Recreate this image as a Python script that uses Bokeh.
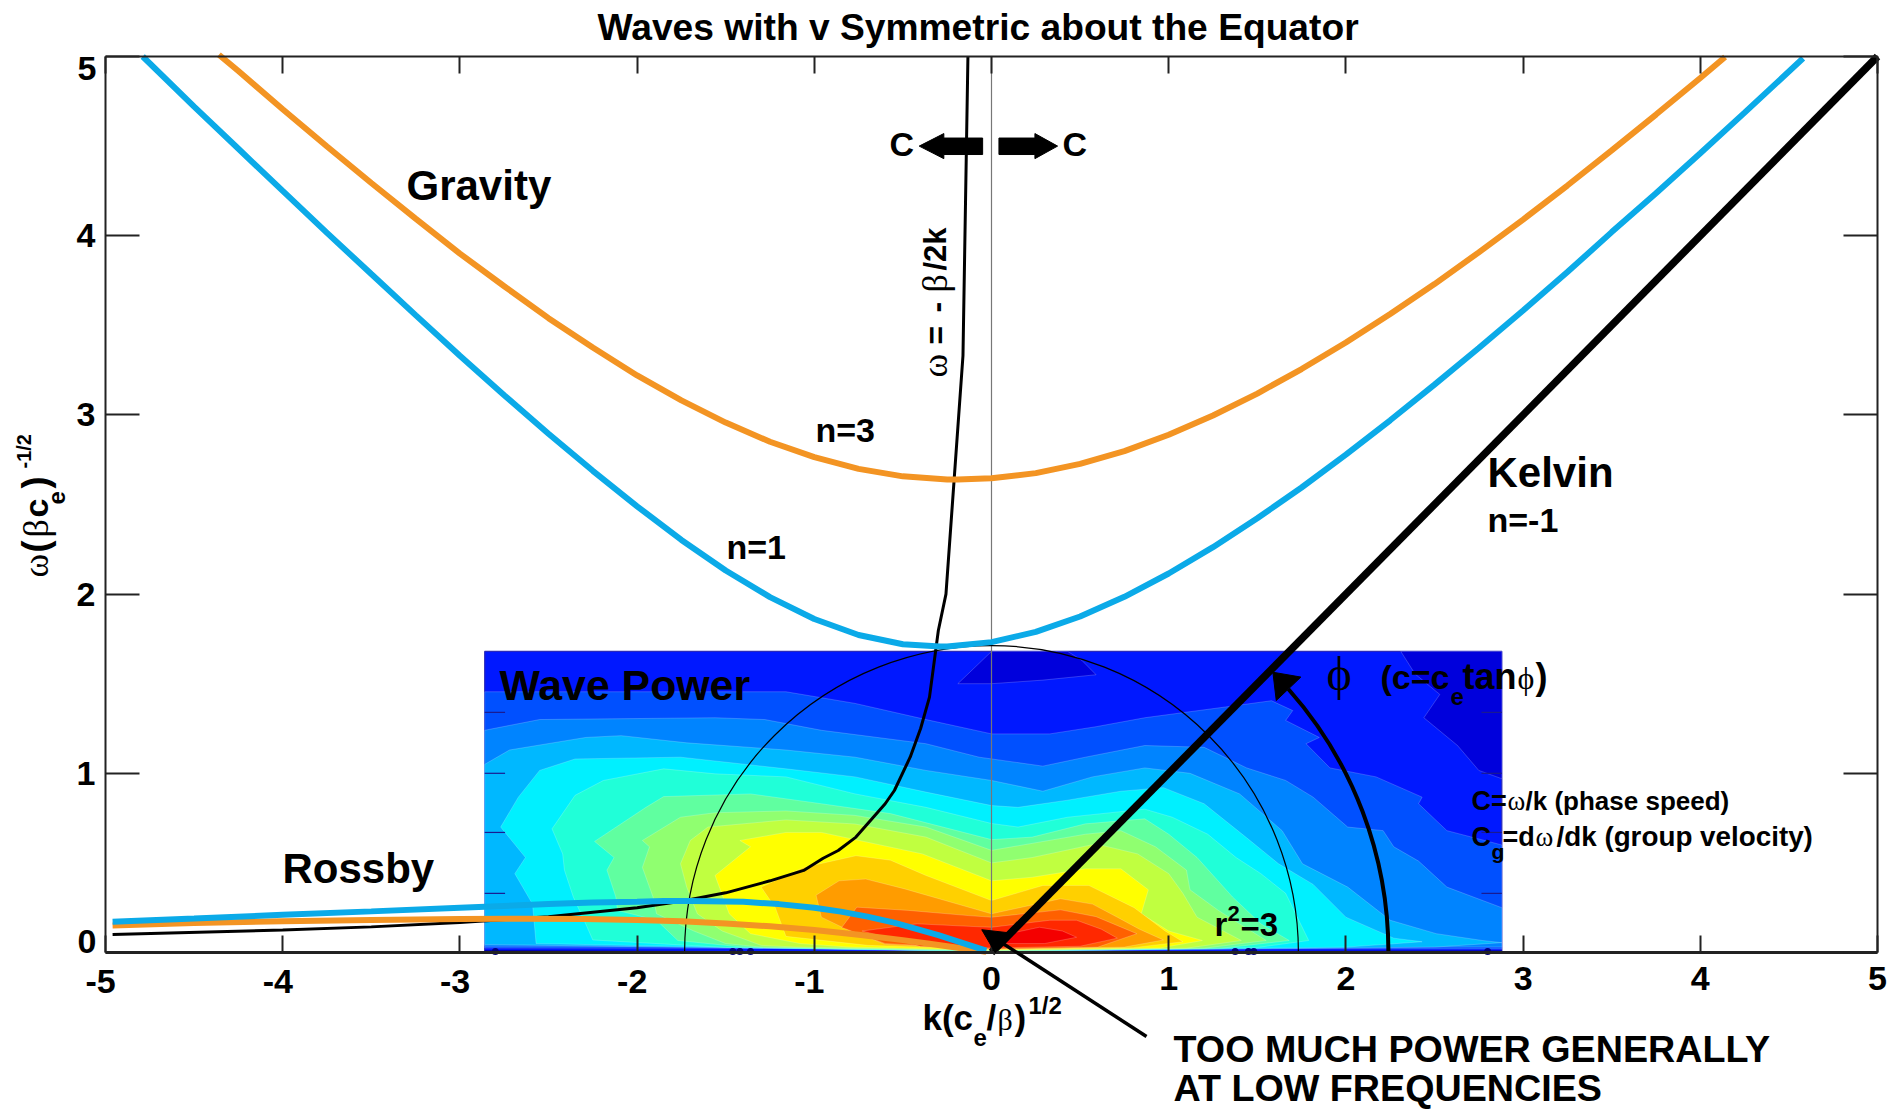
from math import pi
from bokeh.embed import file_html
from bokeh.resources import INLINE
from bokeh.plotting import figure
from bokeh.models import Label, LinearAxis, FixedTicker, Arrow, NormalHead, Range1d

# ---- dispersion curves
gravity1_k = [-4.79,-4.5,-4.25,-4,-3.75,-3.5,-3.25,-3,-2.75,-2.5,-2.25,-2,-1.75,-1.5,-1.25,-1,-0.75,-0.5,-0.29,-0.25,0,0.25,0.5,0.75,1,1.25,1.5,1.75,2,2.25,2.5,2.75,3,3.25,3.5,3.75,4,4.25,4.58]
gravity1_w = [5.0,4.72,4.485,4.25,4.016,3.786,3.557,3.33,3.11,2.895,2.688,2.49,2.302,2.132,1.983,1.861,1.772,1.72,1.707,1.708,1.732,1.789,1.875,1.985,2.115,2.262,2.423,2.595,2.778,2.97,3.169,3.373,3.583,3.797,4.02,4.237,4.46,4.687,4.99]
gravity3_k = [-4.36,-4.25,-4,-3.75,-3.5,-3.25,-3,-2.75,-2.5,-2.25,-2,-1.75,-1.5,-1.25,-1,-0.75,-0.5,-0.25,-0.19,0,0.25,0.5,0.75,1,1.25,1.5,1.75,2,2.25,2.5,2.75,3,3.25,3.5,3.75,4,4.14]
gravity3_w = [5.01,4.919,4.706,4.498,4.294,4.095,3.90,3.718,3.54,3.376,3.22,3.081,2.957,2.85,2.764,2.699,2.657,2.64,2.639,2.646,2.675,2.727,2.798,2.889,2.997,3.119,3.256,3.404,3.563,3.73,3.907,4.09,4.28,4.476,4.676,4.88,4.997]
rossby1_k = [-4.96,-4.5,-4,-3.5,-3,-2.5,-2.25,-2,-1.85,-1.7,-1.4,-1.2,-1,-0.85,-0.7,-0.55,-0.4,-0.3,-0.2,-0.1,-0.03]
rossby1_w = [0.172,0.19,0.21,0.2295,0.25,0.27,0.279,0.283,0.287,0.287,0.283,0.27,0.25,0.228,0.20,0.167,0.125,0.097,0.065,0.033,0.01]
rossby3_k = [-4.96,-4.5,-4,-3.5,-3,-2.65,-2.3,-2,-1.75,-1.5,-1.25,-1,-0.75,-0.5,-0.35,-0.2,-0.03]
rossby3_w = [0.15,0.165,0.174,0.182,0.1875,0.189,0.187,0.182,0.174,0.162,0.146,0.125,0.099,0.069,0.049,0.028,0.004]
inertial_k = [-4.96,-4,-3.5,-3,-2.5,-2,-1.75,-1.5,-1.25,-1.06,-0.95,-0.865,-0.765,-0.667,-0.6,-0.548,-0.459,-0.4,-0.35,-0.30,-0.257,-0.161,-0.133]
inertial_w = [0.10,0.125,0.143,0.167,0.2,0.25,0.286,0.333,0.4,0.458,0.526,0.569,0.644,0.755,0.83,0.904,1.09,1.25,1.425,1.797,2.0,3.33,5.0]
kelvin_k = [0, 5]
kelvin_w = [0, 5]

# ---- wave power: nested filled contour bands, outermost first
map_k = [-2.86, 2.88]
map_w = [0.0, 1.68]
band_colors = ["#0018FF","#0050FF","#0084FF","#00B8FF","#00F0FF","#20FFD8","#60FFA0","#90FF70",
               "#C0FF40","#FFFF00","#FFD000","#FF9C00","#FF6000","#FF2800","#F40000"]
dark_color = "#0000DC"
floor_color = "#0000B4"
floor_k = [-2.86,2.88,2.88,1.3,0,-1.5,-2.86]
floor_w = [0,0,0.012,0.008,0,0.008,0.014]
map_spot_k = [-2.80,-1.46,-1.42,-1.36,1.375,1.45,1.48,2.80]
map_spot_w = [0.006,0.006,0.006,0.006,0.006,0.006,0.006,0.006]
dark_center_k = [-0.19,0,0.29,0.59,0.51,0.43,0]
dark_center_w = [1.50,1.50,1.52,1.55,1.63,1.68,1.68]
dark_right_k = [2.31,2.39,2.53,2.44,2.63,2.75,2.88,2.88]
dark_right_w = [1.68,1.555,1.44,1.31,1.155,1.016,0.97,1.68]
band2_k = [-2.86,-1.16,-0.77,-0.37,0,0.33,0.59,0.865,1.32,1.58,1.7,1.66,1.85,1.775,1.91,2.17,2.43,2.41,2.57,2.88,2.88,-2.86]
band2_w = [1.455,1.455,1.39,1.30,1.22,1.22,1.26,1.31,1.37,1.405,1.35,1.295,1.20,1.165,1.03,0.98,0.867,0.83,0.68,0.60,0.02,0.025]
band3_k = [-2.86,-2.55,-1.56,-1.28,-0.96,-0.37,-0.07,0.29,0.53,0.865,1.2,1.44,1.66,1.815,2.01,2.21,2.27,2.41,2.57,2.88,2.88,-2.86]
band3_w = [1.24,1.30,1.31,1.30,1.24,1.165,1.09,1.04,1.09,1.155,1.145,1.03,0.96,0.867,0.70,0.68,0.59,0.51,0.365,0.25,0.03,0.035]
band4_k = [-2.86,-2.72,-2.29,-2.09,-1.72,-1.16,-0.77,-0.37,0,0.29,0.57,0.865,1.12,1.4,1.64,1.755,2.01,2.25,2.51,2.77,2.88,2.5,0,-2.86]
band4_w = [1.05,1.13,1.20,1.21,1.17,1.13,1.09,1.016,0.96,0.90,0.98,1.03,1.0,0.885,0.68,0.495,0.365,0.18,0.105,0.067,0.055,0.03,0.005,0.045]
band5_k = [-2.57,-2.59,-2.69,-2.63,-2.77,-2.67,-2.55,-2.35,-1.755,-1.16,-0.77,-0.37,0,0.15,0.43,0.73,0.97,1.2,1.44,1.62,1.815,2.0,2.27,2.43,2.0,0,-1.8]
band5_w = [0.05,0.27,0.44,0.53,0.70,0.867,1.016,1.08,1.09,1.025,0.98,0.895,0.82,0.81,0.85,0.90,0.92,0.83,0.64,0.495,0.38,0.197,0.08,0.06,0.03,0.006,0.035]
band6_k = [-2.25,-2.29,-2.36,-2.41,-2.42,-2.48,-2.35,-2.19,-1.85,-1.56,-1.16,-0.77,-0.37,0,0.15,0.43,0.865,1.02,1.22,1.38,1.52,1.66,1.79,1.5,0,-1.5]
band6_w = [0.07,0.16,0.31,0.46,0.55,0.69,0.877,0.96,1.025,0.997,0.98,0.885,0.81,0.72,0.70,0.755,0.80,0.755,0.66,0.53,0.44,0.33,0.067,0.028,0.006,0.028]
band7_k = [-1.77,-1.89,-2.11,-2.12,-2.17,-2.13,-2.24,-1.95,-1.85,-1.36,-0.96,-0.57,0,0.23,0.53,0.865,1.0,1.16,1.26,1.36,1.52,1.68,1.3,0,-1.4]
band7_w = [0.067,0.18,0.235,0.31,0.46,0.53,0.62,0.81,0.87,0.885,0.83,0.775,0.63,0.644,0.718,0.746,0.66,0.53,0.42,0.31,0.16,0.067,0.024,0.008,0.03]
band8_k = [-1.5,-1.68,-1.89,-1.91,-1.97,-1.93,-1.97,-1.755,-1.56,-1.16,-0.77,-0.37,0,0.53,0.73,0.925,1.1,1.12,1.28,1.55,1.2,0,-1.3]
band8_w = [0.05,0.12,0.216,0.31,0.475,0.59,0.625,0.755,0.78,0.79,0.765,0.70,0.57,0.66,0.68,0.59,0.46,0.35,0.235,0.067,0.024,0.01,0.03]
band9_k = [-1.3,-1.52,-1.66,-1.72,-1.755,-1.70,-1.60,-1.16,-0.77,-0.37,0,0.23,0.59,0.825,1.0,1.08,1.16,1.41,1.1,0,-1.1]
band9_w = [0.04,0.12,0.216,0.365,0.495,0.625,0.70,0.74,0.717,0.644,0.50,0.53,0.606,0.55,0.44,0.33,0.197,0.067,0.024,0.012,0.03]
band10_k = [-1.08,-1.36,-1.48,-1.56,-1.36,-1.42,-1.16,-0.96,-0.39,0,0.23,0.53,0.73,0.885,0.845,1.0,1.19,0.95,0,-0.8]
band10_w = [0.05,0.105,0.216,0.43,0.59,0.625,0.67,0.67,0.55,0.40,0.42,0.467,0.467,0.35,0.216,0.12,0.067,0.025,0.014,0.03]
band11_k = [-0.7,-1.16,-1.22,-1.30,-1.06,-0.765,-0.57,-0.37,0,0.29,0.55,0.805,0.98,1.08,0.8,0]
band11_w = [0.04,0.09,0.25,0.365,0.475,0.54,0.515,0.43,0.29,0.374,0.374,0.25,0.12,0.06,0.027,0.016]
band12_k = [-0.6,-0.84,-0.96,-0.99,-0.86,-0.71,-0.49,0,0.39,0.57,0.71,0.835,0.97,0.75,0]
band12_w = [0.045,0.14,0.197,0.32,0.40,0.41,0.355,0.216,0.30,0.27,0.197,0.13,0.07,0.03,0.018]
band13_k = [-0.6,-0.845,-0.76,-0.47,-0.13,0,0.39,0.59,0.82,0.6,0]
band13_w = [0.05,0.14,0.253,0.235,0.206,0.197,0.238,0.2,0.105,0.03,0.02]
band14_k = [-0.73,-0.42,-0.1,0,0.33,0.48,0.62,0.71,0.5,0,-0.4]
band14_w = [0.12,0.16,0.145,0.141,0.18,0.18,0.13,0.08,0.035,0.025,0.035]
band15_k = [0.03,0.27,0.4,0.48,0.3,0.05]
band15_w = [0.09,0.141,0.12,0.085,0.05,0.05]
bands = [(band2_k,band2_w),(band3_k,band3_w),(band4_k,band4_w),(band5_k,band5_w),(band6_k,band6_w),
         (band7_k,band7_w),(band8_k,band8_w),(band9_k,band9_w),(band10_k,band10_w),(band11_k,band11_w),
         (band12_k,band12_w),(band13_k,band13_w),(band14_k,band14_w),(band15_k,band15_w)]
map_tick_w = [0.33, 0.67, 1.0, 1.34]

# ---- tick labels
x_ticks = [-5,-4,-3,-2,-1,0,1,2,3,4,5]
x_labels = ["-5","-4","-3","-2","-1","0","1","2","3","4","5"]
y_ticks = [0,1,2,3,4,5]
y_labels = ["0","1","2","3","4","5"]

# ---- annotation shapes
phase_left_k = [-0.408,-0.269,-0.269,-0.05,-0.05,-0.269,-0.269]
phase_right_k = [0.373,0.245,0.245,0.042,0.042,0.245,0.245]
phase_w = [4.50,4.57,4.545,4.545,4.453,4.453,4.43]
phi_head_k = [1.588,1.746,1.607]
phi_head_w = [1.564,1.537,1.406]

SANS = "Liberation Sans"
SERIF = "Liberation Serif"
WIDTH, HEIGHT = 1890, 1109
X0, X1, Y0, Y1 = 105, 1877, 952, 56

def px_k(px): return -5 + (px-X0)/(X1-X0)*10
def py_w(py): return (Y0-py)/(Y0-Y1)*5
def k_px(k): return X0 + (k+5)/10*(X1-X0)

# the plot frame fills the canvas, so the texts around the axes are not clipped
p = figure(width=WIDTH, height=HEIGHT, output_backend="svg", toolbar_location=None,
           x_range=Range1d(px_k(0), px_k(WIDTH)), y_range=Range1d(py_w(HEIGHT), py_w(0)),
           min_border=0, x_axis_type=None, y_axis_type=None)
p.grid.visible = False
p.outline_line_color = None
p.background_fill_color = "white"

# axes
def style(ax, ticks, labels, tick_in, show, loc, bounds):
    ax.fixed_location = loc
    ax.bounds = bounds
    ax.ticker = FixedTicker(ticks=ticks)
    ax.major_label_overrides = {t: l for t, l in zip(ticks, labels)}
    ax.minor_tick_line_color = None
    ax.major_tick_in = tick_in
    ax.major_tick_out = 0
    ax.axis_line_color = "#222222"
    ax.major_tick_line_color = "#222222"
    ax.axis_line_width = 2
    ax.major_tick_line_width = 2
    ax.major_label_text_font = SANS
    ax.major_label_text_font_style = "bold"
    ax.major_label_text_font_size = "34px"
    ax.major_label_text_color = "black" if show else None
    ax.major_label_standoff = 14 if show else 0

# negative x labels and the two end y labels sit off their ticks: they are placed as texts below
bottom = LinearAxis(); style(bottom, x_ticks, [l if t >= 0 else "" for t, l in zip(x_ticks, x_labels)], 17, True, 0, (-5,5)); bottom.axis_line_width = 3
top = LinearAxis(); style(top, x_ticks, [""]*11, 17, False, 5, (-5,5))
left = LinearAxis(); style(left, y_ticks, [l if 0 < t < 5 else "" for t, l in zip(y_ticks, y_labels)], 34, True, -5, (0,5)); left.major_label_standoff = 10
right = LinearAxis(); style(right, y_ticks, [""]*6, 34, False, 5, (0,5))
p.add_layout(bottom, "below"); p.add_layout(left, "left")
p.add_layout(top, "above"); p.add_layout(right, "right")

# wave-power map
edge = dict(line_color="#FFFFFF", line_alpha=0.28, line_width=0.7)
p.patch([map_k[0],map_k[1],map_k[1],map_k[0]], [map_w[0],map_w[0],map_w[1],map_w[1]],
        fill_color=band_colors[0], line_color="#2A2AB8", line_width=1.2)
p.patch(dark_center_k, dark_center_w, fill_color=dark_color, **edge)
p.patch(dark_right_k, dark_right_w, fill_color=dark_color, **edge)
p.patch(floor_k, floor_w, fill_color=floor_color, line_color=None)
for (bk, bw), c in zip(bands, band_colors[1:]):
    p.patch(bk, bw, fill_color=c, **edge)
p.scatter(map_spot_k, map_spot_w, size=7, fill_color="#000080", line_color=None)
for w in map_tick_w:
    p.segment([map_k[0], map_k[1]-0.115], [w, w], [map_k[0]+0.115, map_k[1]], [w, w],
              line_color="#1A1A90", line_width=1.2)

# reference lines
p.segment([0],[0],[0],[5], line_color="#777777", line_width=1.2)
p.arc(x=[0],y=[0],radius=1.732,start_angle=0,end_angle=pi,line_color="black",line_width=1.2)
p.arc(x=[0],y=[0],radius=2.24,start_angle=0,end_angle=41.6*pi/180,line_color="black",line_width=4)
p.patch(phi_head_k, phi_head_w, fill_color="black", line_color="black", line_width=1)

# dispersion curves
p.line(inertial_k, inertial_w, line_color="black", line_width=3)
p.line(rossby3_k, rossby3_w, line_color="#F39423", line_width=6)
p.line(rossby1_k, rossby1_w, line_color="#0BAAE8", line_width=6)
p.line(gravity3_k, gravity3_w, line_color="#F39423", line_width=6)
p.line(gravity1_k, gravity1_w, line_color="#0BAAE8", line_width=6)
p.line(kelvin_k, kelvin_w, line_color="black", line_width=7.5)

# phase arrows
p.patch(phase_left_k, phase_w, fill_color="black", line_color="black", line_width=1)
p.patch(phase_right_k, phase_w, fill_color="black", line_color="black", line_width=1)

# pointer
p.add_layout(Arrow(end=NormalHead(size=24, fill_color="black", line_color="black"),
                   x_start=px_k(1146), y_start=py_w(1036), x_end=-0.055, y_end=0.127,
                   line_color="black", line_width=3.5))

# texts: text, left px, baseline px, size, font, angle
texts = [
    ("Waves with v Symmetric about the Equator", 597, 39, 37.2, SANS, 0),
    ("Gravity", 406, 198, 42, SANS, 0),
    ("n=3", 815, 441, 34, SANS, 0),
    ("n=1", 726, 558, 34, SANS, 0),
    ("Kelvin", 1487, 485, 42, SANS, 0),
    ("n=-1", 1487, 531, 34, SANS, 0),
    ("Wave Power", 499, 698, 42.8, SANS, 0),
    ("Rossby", 282, 881, 42, SANS, 0),
    ("C", 889, 155, 34, SANS, 0),
    ("C", 1062, 155, 34, SANS, 0),
    ("5", 77, 79, 34, SANS, 0),
    ("0", 77, 952, 34, SANS, 0),
    ("r", 1214, 935, 33, SANS, 0),
    ("2", 1227, 921, 22, SANS, 0),
    ("=3", 1240, 935, 33, SANS, 0),
    ("k(c", 922, 1029, 35, SANS, 0),
    ("e", 973, 1046, 24, SANS, 0),
    ("/", 986, 1029, 35, SANS, 0),
    ("β", 997, 1029, 30, SERIF, 0),
    (")", 1014, 1029, 35, SANS, 0),
    ("1/2", 1028, 1014, 24, SANS, 0),
    ("ϕ", 1326, 688, 48, SERIF, 0),
    ("(c=c", 1380, 688, 34, SANS, 0),
    ("e", 1450, 705, 24, SANS, 0),
    ("tan", 1462, 688, 36, SANS, 0),
    ("ϕ", 1517, 688, 32, SERIF, 0),
    (")", 1535, 688, 36, SANS, 0),
    ("C=", 1471, 810, 27, SANS, 0),
    ("ω", 1507, 810, 27, SERIF, 0),
    ("/k (phase speed)", 1525, 810, 26, SANS, 0),
    ("C", 1471, 846, 27, SANS, 0),
    ("g", 1491, 859, 21, SANS, 0),
    ("=d", 1502, 846, 27, SANS, 0),
    ("ω", 1535, 846, 27, SERIF, 0),
    ("/dk (group velocity)", 1556, 846, 27.8, SANS, 0),
    ("TOO MUCH POWER GENERALLY", 1173, 1061, 37.7, SANS, 0),
    ("AT LOW FREQUENCIES", 1173, 1100, 37.7, SANS, 0),
    ("ω", 946, 377, 36, SERIF, pi/2),
    ("=", 946, 344, 32, SANS, pi/2),
    ("-", 946, 312, 32, SANS, pi/2),
    ("β", 946, 292, 36, SERIF, pi/2),
    ("/2k", 946, 270, 31, SANS, pi/2),
    ("ω", 47, 577, 36, SERIF, pi/2),
    ("(", 47, 552, 36, SANS, pi/2),
    ("β", 47, 537, 36, SERIF, pi/2),
    ("c", 47, 517, 34, SANS, pi/2),
    ("e", 65, 504, 24, SANS, pi/2),
    (")", 47, 488, 36, SANS, pi/2),
    ("-1/2", 31, 468, 20, SANS, pi/2),
]
for t, l in zip(x_ticks, x_labels):
    if t < 0:
        texts.append((l, k_px(t) - 20, 992, 34, SANS, 0))

for t, x, y, s, f, a in texts:
    # the page draws alphabetic baselines lower than asked, by about a quarter of the size
    shift = 0.25*s + 3
    if a == 0:
        y = y - shift
    else:
        x = x - shift
    p.add_layout(Label(x=px_k(x), y=py_w(y), text=t, text_font=f,
                       text_font_style="bold" if f == SANS else "normal",
                       text_font_size=f"{s}px", text_color="black",
                       text_baseline="alphabetic", text_align="left", angle=a))

open("out.html", "w").write(file_html(p, INLINE))
